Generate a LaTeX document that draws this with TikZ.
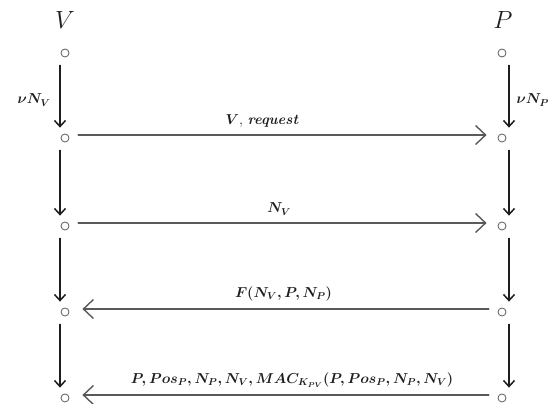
\documentclass[tikz,border=0pt]{standalone}
\usepackage{amsmath}
\usepackage{bm}
\usetikzlibrary{arrows.meta}
\definecolor{inkc}{RGB}{30,30,30}
\definecolor{linec}{RGB}{90,90,90}

\begin{document}
\begin{tikzpicture}[x=1pt, y=1pt, line cap=round,
    font=\fontsize{14.5}{16}\selectfont\boldmath,
    state/.style={circle, draw=linec, line width=0.8pt, inner sep=0pt, minimum size=8pt},
    down/.style={-{Straight Barb[length=6pt, width=11pt, line width=1.5pt]}, inkc, line width=1.5pt,
                 shorten <=8pt, shorten >=6pt},
    msg/.style={-{Straight Barb[length=10pt, width=19pt, line width=1.4pt]}, linec, line width=1.9pt},
    lbl/.style={above, inkc, inner sep=2pt, yshift=5pt}]
  \useasboundingbox (0,0) rectangle (555,404);
  \def\xV{65}
  \def\xP{502}

  % the two parties
  \node[inkc, font=\fontsize{27}{29}\selectfont] (nameV) at (\xV,384) {$V$};
  \node[inkc, font=\fontsize{27}{29}\selectfont] (nameP) at (\xP+1,384) {$P$};

  % time points of both parties
  \foreach \i/\y in {0/351,1/266,2/178,3/92,4/6}{
    \node[state] (v\i) at (\xV,\y) {};
    \node[state] (p\i) at (\xP,\y) {};
  }

  % time lines
  \foreach \i/\j in {0/1,1/2,2/3,3/4}{
    \draw[down] ([xshift=-5pt]v\i.south) -- ([xshift=-5pt]v\j.north);
    \draw[down] ([xshift=7pt]p\i.south) -- ([xshift=7pt]p\j.north);
  }

  % nonce choices
  \node[inkc, anchor=east] (nonceV) at (\xV-11,304) {$\nu N_V$};
  \node[inkc, anchor=west] (nonceP) at (\xP+11,304) {$\nu N_P$};

  % messages
  \draw[msg, shorten <=9pt, shorten >=11pt] ([yshift=3pt]v1.east) --
    node[lbl, pos=0.45] {$V$, \textbf{\textit{request}}} ([yshift=3pt]p1.west);
  \draw[msg, shorten <=9pt, shorten >=11pt] ([yshift=3pt]v2.east) --
    node[lbl, pos=0.49] {$N_V$} ([yshift=3pt]p2.west);
  \draw[msg, shorten <=9pt, shorten >=13pt] ([yshift=3pt]p3.west) --
    node[lbl, pos=0.5] {$F(N_V,P,N_P)$} ([yshift=3pt]v3.east);
  \draw[msg, shorten <=9pt, shorten >=13pt] ([yshift=3pt]p4.west) --
    node[lbl, pos=0.48] {$P,Pos_P,N_P,N_V,MAC_{K_{PV}}(P,Pos_P,N_P,N_V)$} ([yshift=3pt]v4.east);
\end{tikzpicture}
\end{document}
